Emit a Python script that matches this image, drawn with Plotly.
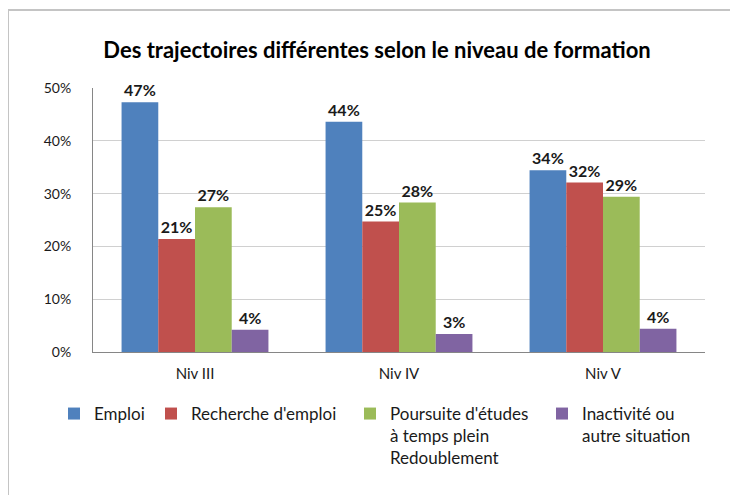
import plotly.graph_objects as go

categories = ["Niv III", "Niv IV", "Niv V"]
series_names = [
    "Emploi",
    "Recherche d'emploi",
    "Poursuite d'études<br>à temps plein<br>Redoublement",
    "Inactivité ou<br>autre situation",
]
emploi = [47.3, 43.6, 34.4]
recherche = [21.4, 24.7, 32.1]
poursuite = [27.4, 28.3, 29.4]
inactivite = [4.2, 3.4, 4.4]
y_ticks = [0, 10, 20, 30, 40, 50]
y_tick_labels = ["0%", "10%", "20%", "30%", "40%", "50%"]

colors = ["#4F81BD", "#C0504D", "#9BBB59", "#8064A2"]
font = "Lato"
W, H = 738, 495
OFF = 8  # page body margin
# plot area in page pixels: x 93..705, y 88..352
L, R, T, B = 93 - OFF, W - (705 - OFF), 88 - OFF, H - (352 - OFF)
PW, PH = W - L - R, H - T - B

# page pixel -> paper helpers
px2x = lambda p: (p - OFF - L) / PW
py2y = lambda p: (H - B - (p - OFF)) / PH

fig = go.Figure()
legend_ids = ["legend", "legend2", "legend3", "legend4"]
for name, vals, col, lg in zip(series_names, [emploi, recherche, poursuite, inactivite], colors, legend_ids):
    fig.add_trace(go.Bar(
        x=categories, y=vals, name=name, marker=dict(color=col, line=dict(width=0)),
        texttemplate="%{y:.0f}%", textposition="outside",
        textfont=dict(family=font, size=16, color="#1a1a1a", weight="bold"),
        cliponaxis=False, legend=lg, showlegend=True,
    ))

# legend symbol centres (page px) for each series
sym_x = [74, 171, 370, 562]
layout_legends = {}
for lg, sx in zip(legend_ids, sym_x):
    layout_legends[lg] = dict(
        xref="paper", yref="paper", x=px2x(sx - 20), y=py2y(396),
        xanchor="left", yanchor="top", valign="top", visible=True,
        font=dict(family=font, size=17, color="#1a1a1a"),
        bgcolor="rgba(0,0,0,0)", borderwidth=0,
    )

# outer chart frame
frame = [
    dict(type="line", xref="paper", yref="paper", x0=px2x(8), x1=px2x(W + 20),
         y0=py2y(10), y1=py2y(10), line=dict(color="#c4c4c4", width=2)),
    dict(type="line", xref="paper", yref="paper", x0=px2x(8), x1=px2x(8),
         y0=py2y(10), y1=py2y(H + 20), line=dict(color="#c4c4c4", width=2)),
]

fig.update_layout(
    width=W, height=H, showlegend=True,
    margin=dict(l=L, r=R, t=T, b=B, autoexpand=False),
    paper_bgcolor="white", plot_bgcolor="white",
    barmode="group", bargap=0.28, bargroupgap=0,
    title=dict(text="<b>Des trajectoires différentes selon le niveau de formation</b>",
               x=(377 - OFF) / W, xanchor="center", y=1 - (50 - OFF) / H, yanchor="middle",
               font=dict(family=font, size=22, color="#000000")),
    xaxis=dict(showline=True, linecolor="#868686", linewidth=1, ticks="",
               ticklabelstandoff=8,
               tickfont=dict(family=font, size=15, color="#1a1a1a")),
    yaxis=dict(range=[0, 50], tickmode="array", tickvals=y_ticks, ticktext=y_tick_labels,
               showgrid=True, gridcolor="#d0d0d0", gridwidth=1,
               showline=True, linecolor="#868686", linewidth=1,
               ticks="", ticklabelstandoff=18, zeroline=False,
               tickfont=dict(family=font, size=14, color="#1a1a1a")),
    shapes=frame,
    **layout_legends,
)

fig.write_html("out.html")
